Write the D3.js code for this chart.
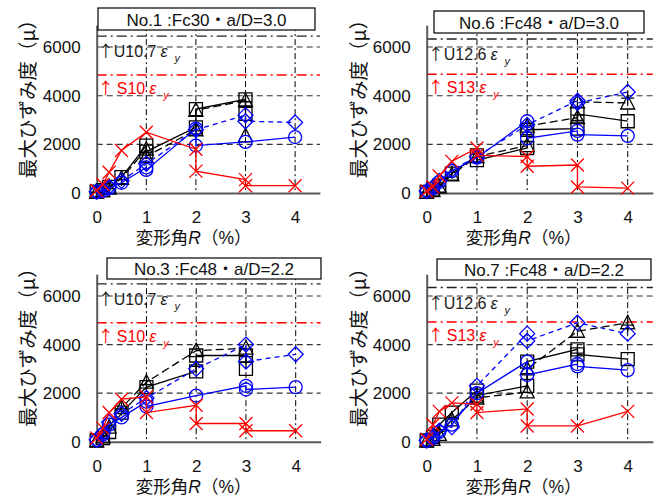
<!DOCTYPE html>
<html>
<head>
<meta charset="utf-8">
<script src="https://cdn.jsdelivr.net/npm/d3@7"></script>
<style>
    body { margin: 0; background: #fff; }
    text { font-family: "Liberation Sans", "Noto Sans CJK JP", sans-serif; }
</style>
</head>
<body>
<svg id="chart" width="667" height="498"></svg>
<script>
// ---- data ----
const xTicks = [0, 1, 2, 3, 4]
const yTicks = [0, 2000, 4000, 6000]
const panelTitles = ['No.1 :Fc30・a/D=3.0', 'No.6 :Fc48・a/D=3.0', 'No.3 :Fc48・a/D=2.2', 'No.7 :Fc48・a/D=2.2']
const yieldLabelU = ['U10.7', 'U12.6', 'U10.7', 'U12.6']
const yieldLabelS = ['S10', 'S13', 'S10', 'S13']
const yieldValueU = [6450, 6330, 6500, 6350]
const yieldValueS = [4850, 4880, 4900, 4930]

// [R (%), max strain (μ)]
const no1Square = [[0, 60], [0.125, 120], [0.25, 250], [0.5, 650], [1, 1950], [1, 1700], [2, 2700], [2, 3450], [3, 3850], [3, 3250]]
const no1Triangle = [[0, 40], [0.125, 100], [0.25, 200], [0.5, 600], [1, 1800], [1, 1500], [2, 2600], [2, 3400], [3, 3800], [3, 2350]]
const no1Plus = [[0, 30], [0.125, 80], [0.25, 180], [0.5, 550], [1, 1650], [2, 2550], [3, 3750]]
const no1Circle = [[0, 40], [0.125, 90], [0.25, 200], [0.5, 420], [1, 1050], [1, 950], [2, 2650], [2, 1950], [3, 2100], [4, 2300]]
const no1Diamond = [[0, 50], [0.125, 120], [0.25, 250], [0.5, 500], [1, 1200], [2, 2600], [3, 3200], [3, 2950], [4, 2900]]
const no1Cross = [[0, 100], [0.125, 350], [0.25, 850], [0.5, 1750], [1, 2500], [2, 1800], [2, 900], [3, 550], [3, 300], [4, 300]]

const no6Square = [[0, 50], [0.125, 150], [0.25, 300], [0.5, 800], [1, 1550], [1, 1350], [2, 1850], [2, 2600], [3, 2650], [3, 3250], [4, 2950]]
const no6Triangle = [[0, 40], [0.125, 100], [0.25, 250], [0.5, 750], [1, 1500], [2, 1950], [2, 2750], [3, 3100], [3, 3750], [4, 3700]]
const no6Plus = [[0, 30], [0.125, 120], [0.25, 280], [0.5, 850], [1, 1600], [2, 2400], [3, 3200], [4, 3900]]
const no6Circle = [[0, 60], [0.125, 200], [0.25, 450], [0.5, 900], [1, 1450], [2, 2950], [2, 2250], [3, 2550], [3, 2400], [4, 2350]]
const no6Diamond = [[0, 80], [0.125, 250], [0.25, 500], [0.5, 950], [1, 1500], [2, 2800], [3, 3800], [3, 3700], [4, 4150]]
const no6Cross = [[0, 80], [0.125, 250], [0.25, 700], [0.5, 1300], [1, 1850], [1, 1550], [2, 1500], [2, 1100], [3, 1150], [3, 250], [4, 200]]

const no3Square = [[0, 50], [0.125, 150], [0.25, 400], [0.5, 1200], [1, 2250], [2, 2900], [2, 3550], [3, 3550], [3, 3000]]
const no3Triangle = [[0, 40], [0.125, 200], [0.25, 600], [0.5, 1400], [1, 2450], [2, 3750], [3, 3850]]
const no3Plus = [[0.125, 250], [0.25, 650], [0.5, 1350], [1, 2350], [2, 3100], [3, 3500]]
const no3Circle = [[0, 60], [0.125, 300], [0.25, 700], [0.5, 1000], [1, 1650], [1, 1450], [2, 1900], [3, 2300], [3, 2150], [4, 2250]]
const no3Diamond = [[0, 80], [0.125, 350], [0.25, 800], [0.5, 1150], [1, 1800], [2, 3000], [3, 4000], [3, 3300], [4, 3600]]
const no3Cross = [[0, 150], [0.125, 550], [0.25, 1200], [0.5, 1750], [1, 1850], [1, 1200], [2, 1500], [2, 750], [3, 750], [3, 450], [4, 450]]

const no7Square = [[0, 50], [0.125, 200], [0.25, 700], [0.5, 1200], [1, 2100], [1, 1900], [2, 2300], [2, 3300], [3, 3800], [3, 3600], [4, 3400]]
const no7Triangle = [[0, 30], [0.125, 100], [0.25, 300], [0.5, 900], [1, 1800], [2, 2050], [2, 3000], [3, 4550], [4, 4900]]
const no7Plus = [[0.25, 500], [0.5, 1000], [1, 2000], [2, 2800], [3, 3650], [4, 4800]]
const no7Circle = [[0, 40], [0.125, 150], [0.25, 400], [0.5, 700], [1, 2000], [2, 3300], [2, 2750], [3, 3200], [3, 3100], [4, 2950]]
const no7Diamond = [[0, 50], [0.125, 200], [0.25, 450], [0.5, 600], [1, 2300], [2, 4450], [2, 4150], [3, 4900], [4, 4450]]
const no7Cross = [[0, 100], [0.125, 700], [0.25, 1250], [0.5, 1600], [1, 1550], [1, 1200], [2, 1350], [2, 650], [3, 650], [4, 1250]]

const panelSeries = [
    [no1Square, no1Triangle, no1Plus, no1Circle, no1Diamond, no1Cross],
    [no6Square, no6Triangle, no6Plus, no6Circle, no6Diamond, no6Cross],
    [no3Square, no3Triangle, no3Plus, no3Circle, no3Diamond, no3Cross],
    [no7Square, no7Triangle, no7Plus, no7Circle, no7Diamond, no7Cross]
]

// ---- styles ----
const seriesStyle = [
    { marker: 'square', colour: '#000', dash: null, line: true },
    { marker: 'triangle', colour: '#000', dash: '8,4', line: true },
    { marker: 'plus', colour: '#000', dash: null, line: false },
    { marker: 'circle', colour: '#0000ff', dash: null, line: true },
    { marker: 'diamond', colour: '#0000ff', dash: '5,4', line: true },
    { marker: 'times', colour: '#ff0000', dash: null, line: true }
]

const layout = [
    { x0: 96.7, unit: 49.6, y0: 193, k: 24.33, box: [98, 8, 315, 30], labelX: 26 },
    { x0: 426.7, unit: 50.25, y0: 193, k: 24.33, box: [434, 11, 644, 33], labelX: 357 },
    { x0: 96.7, unit: 49.75, y0: 441.7, k: 24.28, box: [107, 258, 321, 279], labelX: 26 },
    { x0: 426.7, unit: 50.25, y0: 441.7, k: 24.28, box: [437, 259, 651, 280], labelX: 357 }
]

const markerPath = (type) => {
    const h = 6.5
    switch (type) {
        case 'square': return `M${-h},${-h}h${2 * h}v${2 * h}h${-2 * h}Z`
        case 'triangle': return `M0,${-h - 1}L${h + 0.5},${h - 0.5}L${-h - 0.5},${h - 0.5}Z`
        case 'circle': return `M${h},0A${h},${h} 0 1,1 ${-h},0A${h},${h} 0 1,1 ${h},0Z`
        case 'diamond': return `M0,${-h - 1}L${h + 1},0L0,${h + 1}L${-h - 1},0Z`
        case 'plus': return `M${-h},0H${h}M0,${-h}V${h}`
        case 'times': return `M${-h},${-h}L${h},${h}M${-h},${h}L${h},${-h}`
    }
}

const svg = d3.select('#chart')

layout.forEach((p, i) => {
    const x = d3.scaleLinear().domain([0, 4.5]).range([p.x0, p.x0 + 4.5 * p.unit])
    const y = d3.scaleLinear().domain([0, 6900]).range([p.y0, p.y0 - 6.9 * p.k])
    const [xl, xr] = x.range()
    const g = svg.append('g').attr('class', `panel-${i}`)

    // grid
    g.selectAll('.hgrid').data(yTicks.filter(d => d > 0)).join('line')
        .attr('x1', xl).attr('x2', xr)
        .attr('y1', d => y(d)).attr('y2', d => y(d))
        .attr('stroke', '#333').attr('stroke-width', 1.1).attr('stroke-dasharray', '6,4')
    g.selectAll('.vgrid').data(xTicks.filter(d => d > 0)).join('line')
        .attr('x1', d => x(d)).attr('x2', d => x(d))
        .attr('y1', y(6900)).attr('y2', p.y0)
        .attr('stroke', '#000').attr('stroke-width', 1).attr('stroke-dasharray', '6,3,2,3')

    // yield reference lines
    g.append('line')
        .attr('x1', xl).attr('x2', xr).attr('y1', y(yieldValueU[i])).attr('y2', y(yieldValueU[i]))
        .attr('stroke', '#222').attr('stroke-width', 1.3).attr('stroke-dasharray', '10,4,2,4')
    g.append('line')
        .attr('x1', xl).attr('x2', xr).attr('y1', y(yieldValueS[i])).attr('y2', y(yieldValueS[i]))
        .attr('stroke', '#ff0000').attr('stroke-width', 1.3).attr('stroke-dasharray', '10,4,2,4')

    const refText = (val, label, colour, offset, gap) => {
        const t = g.append('text')
            .attr('x', p.x0 + 1).attr('y', y(val) + offset)
            .attr('fill', colour).style('font-size', '16px')
        t.append('tspan').style('font-family', '"Noto Sans CJK JP"').text('↑')
        t.append('tspan').attr('dx', gap).text(label)
        t.append('tspan').attr('dx', 4).style('font-style', 'italic').text('ε')
        t.append('tspan').attr('dx', 7).attr('dy', 5).style('font-style', 'italic').style('font-size', '11px').text('y')
    }
    refText(yieldValueU[i], yieldLabelU[i], '#222', 21, 0)
    refText(yieldValueS[i], yieldLabelS[i], '#ff0000', 19, 3)

    // axes
    g.append('g')
        .attr('transform', `translate(0, ${p.y0})`)
        .call(d3.axisBottom(x).tickValues(xTicks).tickFormat(d3.format('d')).tickSize(0).tickSizeOuter(0).tickPadding(18))
        .call(a => {
            a.select('.domain').attr('stroke', '#595959').attr('stroke-width', 2)
            a.selectAll('text').attr('fill', '#111').style('font-size', '17px')
        })
    g.append('g')
        .attr('transform', `translate(${p.x0}, 0)`)
        .call(d3.axisLeft(y).tickValues(yTicks).tickFormat(d3.format('d')).tickSize(0).tickSizeOuter(0).tickPadding(16))
        .call(a => {
            a.select('.domain').attr('stroke', '#595959').attr('stroke-width', 2)
            a.selectAll('text').attr('fill', '#111').style('font-size', '17px')
        })

    // series
    const line = d3.line().x(d => x(d[0])).y(d => y(d[1]))
    panelSeries[i].forEach((data, s) => {
        const st = seriesStyle[s]
        if (st.line) {
            g.append('path').datum(data)
                .attr('d', line)
                .attr('fill', 'none')
                .attr('stroke', st.colour).attr('stroke-width', 1.3)
                .attr('stroke-dasharray', st.dash)
        }
        g.selectAll(`.m${s}`).data(data).join('path')
            .attr('class', `m${s}`)
            .attr('transform', d => `translate(${x(d[0])}, ${y(d[1])})`)
            .attr('d', markerPath(st.marker))
            .attr('fill', 'none')
            .attr('stroke', st.colour).attr('stroke-width', 1.3)
    })

    // axis labels
    g.append('text')
        .attr('transform', `translate(${p.labelX}, ${p.y0 - 99}) rotate(-90)`)
        .attr('text-anchor', 'middle').attr('dominant-baseline', 'central')
        .attr('fill', '#111').style('font-size', '19.5px')
        .style('font-family', '"Noto Sans CJK JP", sans-serif')
        .text('最大ひずみ度（μ）')
    const xl2 = g.append('text')
        .attr('x', p.x0 + 97).attr('y', p.y0 + 51)
        .attr('text-anchor', 'middle')
        .attr('fill', '#111').style('font-size', '17.5px')
    xl2.append('tspan').text('変形角')
    xl2.append('tspan').style('font-style', 'italic').text('R')
    xl2.append('tspan').text('（%）')

    // title box
    const [bx1, by1, bx2, by2] = p.box
    g.append('rect')
        .attr('x', bx1).attr('y', by1).attr('width', bx2 - bx1).attr('height', by2 - by1)
        .attr('fill', '#fff').attr('stroke', '#000').attr('stroke-width', 1.2)
    g.append('text')
        .attr('x', (bx1 + bx2) / 2).attr('y', (by1 + by2) / 2 + 1)
        .attr('text-anchor', 'middle').attr('dominant-baseline', 'central')
        .attr('fill', '#111').style('font-size', '17px')
        .text(panelTitles[i])
})
</script>
</body>
</html>
